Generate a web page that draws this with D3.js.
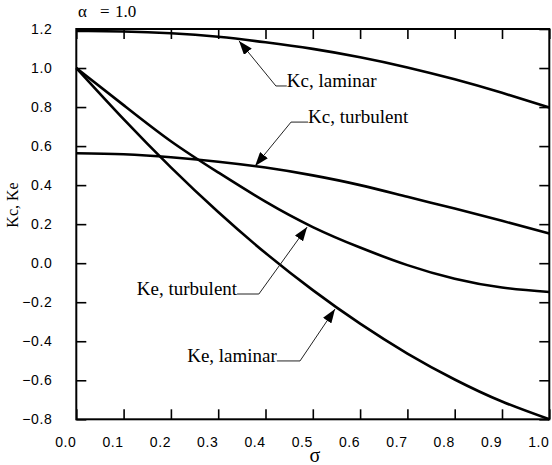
<!DOCTYPE html>
<html>
<head>
<meta charset="utf-8">
<script src="https://cdn.jsdelivr.net/npm/d3@7/dist/d3.min.js"></script>
<style>
  html, body { margin: 0; padding: 0; background: #fff; }
  svg { display: block; }
</style>
</head>
<body>
<svg id="chart" width="552" height="465"></svg>
<script>
// ---- data ----
const sigma = [0.0, 0.1, 0.2, 0.3, 0.4, 0.5, 0.6, 0.7, 0.8, 0.9, 1.0];
const kcLaminar   = [1.190, 1.187, 1.178, 1.160, 1.132, 1.098, 1.055, 1.003, 0.942, 0.873, 0.798];
const kcTurbulent = [0.563, 0.558, 0.543, 0.520, 0.490, 0.450, 0.400, 0.340, 0.280, 0.217, 0.152];
const keTurbulent = [1.000, 0.810, 0.625, 0.465, 0.315, 0.185, 0.080, -0.010, -0.080, -0.125, -0.148];
const keLaminar   = [1.000, 0.738, 0.491, 0.262, 0.052, -0.138, -0.310, -0.463, -0.596, -0.709, -0.800];

const xTicks = [0.0, 0.1, 0.2, 0.3, 0.4, 0.5, 0.6, 0.7, 0.8, 0.9, 1.0];
const yTicks = [-0.8, -0.6, -0.4, -0.2, 0.0, 0.2, 0.4, 0.6, 0.8, 1.0, 1.2];

const seriesNames = ["Kc, laminar", "Kc, turbulent", "Ke, turbulent", "Ke, laminar"];
// annotation: arrow tip [σ, K], elbow [σ, K], text side
const annTip   = [[0.344, 1.139], [0.378, 0.498], [0.488, 0.185], [0.547, -0.235]];
const annElbow = [[0.422, 0.908], [0.454, 0.723], [0.386, -0.158], [0.473, -0.501]];
const annEndX  = [0.445, 0.490, 0.340, 0.424];
const annSide  = ["right", "right", "left", "left"];

const title = "α = 1.0";
const xLabel = "σ";
const yLabel = "Kc, Ke";

// ---- layout ----
const W = 552, H = 465;
const margin = { left: 76.3, right: 2.7, top: 29, bottom: 45.7 };
const svg = d3.select("#chart");

const x = d3.scaleLinear().domain([0, 1]).range([margin.left, W - margin.right]);
const y = d3.scaleLinear().domain([-0.8, 1.2]).range([H - margin.bottom, margin.top]);

const sansFont = "'Liberation Sans', Arial, sans-serif";
const serifFont = "'Liberation Serif', 'Times New Roman', serif";

// axes (inward ticks)
const gB = svg.append("g").attr("transform", `translate(0,${y(-0.8)})`)
  .call(d3.axisBottom(x).tickValues(xTicks).tickFormat(d3.format(".1f"))
        .tickSizeInner(-10).tickSizeOuter(0).tickPadding(17.5));
gB.selectAll("text").attr("dx", -11);

const gL = svg.append("g").attr("transform", `translate(${x(0)},0)`)
  .call(d3.axisLeft(y).tickValues(yTicks).tickFormat(d3.format(".1f"))
        .tickSizeInner(-10).tickSizeOuter(0).tickPadding(24));

const gT = svg.append("g").attr("transform", `translate(0,${y(1.2)})`)
  .call(d3.axisTop(x).tickValues(xTicks).tickFormat("")
        .tickSizeInner(-10).tickSizeOuter(0));
const gR = svg.append("g").attr("transform", `translate(${x(1)},0)`)
  .call(d3.axisRight(y).tickValues(yTicks).tickFormat("")
        .tickSizeInner(-10).tickSizeOuter(0));

[gB, gL, gT, gR].forEach(g => {
  g.select(".domain").remove();
  g.selectAll(".tick line").attr("stroke", "#000").attr("stroke-width", 1.6);
  g.selectAll("text").attr("font-family", sansFont).attr("font-size", 14)
    .attr("letter-spacing", 0.6).attr("fill", "#000");
});

// frame
svg.append("rect")
  .attr("x", x(0)).attr("y", y(1.2))
  .attr("width", x(1) - x(0)).attr("height", y(-0.8) - y(1.2))
  .attr("fill", "none").attr("stroke", "#000").attr("stroke-width", 2);

// curves
const line = d3.line()
  .x((d, i) => x(sigma[i]))
  .y(d => y(d))
  .curve(d3.curveNatural);

[kcLaminar, kcTurbulent, keTurbulent, keLaminar].forEach(s => {
  svg.append("path").datum(s)
    .attr("d", line)
    .attr("fill", "none").attr("stroke", "#000").attr("stroke-width", 2.6);
});

// annotations
const defs = svg.append("defs");
defs.append("marker").attr("id", "arrow")
  .attr("viewBox", "0 0 14 10").attr("refX", 14).attr("refY", 5)
  .attr("markerWidth", 14).attr("markerHeight", 10)
  .attr("markerUnits", "userSpaceOnUse").attr("orient", "auto-start-reverse")
  .append("path").attr("d", "M0,0 L14,5 L0,10 Z").attr("fill", "#000");

seriesNames.forEach((name, i) => {
  const tip = annTip[i], el = annElbow[i];
  const pts = [[x(annEndX[i]), y(el[1])], [x(el[0]), y(el[1])], [x(tip[0]), y(tip[1])]];
  svg.append("path")
    .attr("d", d3.line()(pts))
    .attr("fill", "none").attr("stroke", "#222").attr("stroke-width", 1)
    .attr("marker-end", "url(#arrow)");
  svg.append("text")
    .attr("x", x(annEndX[i]))
    .attr("y", y(el[1]) + 1)
    .attr("text-anchor", annSide[i] === "right" ? "start" : "end")
    .attr("font-family", serifFont).attr("font-size", 19)
    .attr("fill", "#000")
    .text(name);
});

// title  α = 1.0
const t = svg.append("text").attr("y", 17).attr("font-family", serifFont)
  .attr("font-size", 17).attr("fill", "#000");
const parts = title.split(" ");
t.append("tspan").attr("x", 78).text(parts[0]);
t.append("tspan").attr("x", 100).text(parts[1]);
t.append("tspan").attr("x", 115).text(parts[2]);

// axis labels
svg.append("text")
  .attr("x", (x(0) + x(1)) / 2 + 2).attr("y", 462)
  .attr("text-anchor", "middle")
  .attr("font-family", serifFont).attr("font-size", 20).attr("fill", "#000")
  .text(xLabel);

svg.append("text")
  .attr("transform", `translate(18,205) rotate(-90)`)
  .attr("text-anchor", "middle")
  .attr("font-family", serifFont).attr("font-size", 16).attr("fill", "#000")
  .text(yLabel);
</script>
</body>
</html>
